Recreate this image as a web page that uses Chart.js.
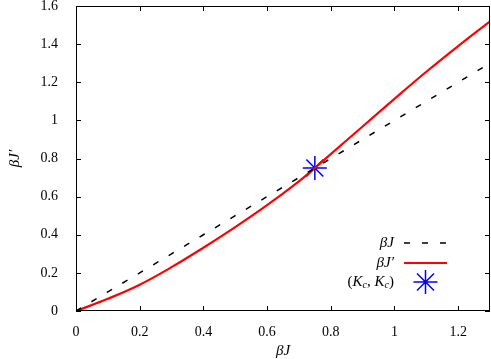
<!DOCTYPE html>
<html>
<head>
<meta charset="utf-8">
<script src="https://cdn.jsdelivr.net/npm/chart.js@4/dist/chart.umd.min.js"></script>
<style>
  html, body { margin: 0; padding: 0; background: #fff; }
  #wrap { width: 491px; height: 359px; }
</style>
</head>
<body>
<div id="wrap"><canvas id="flow-chart" width="491" height="359"></canvas></div>
<script>
// values
var betaJ      = [0, 0.1, 0.2, 0.3, 0.4, 0.5, 0.6, 0.7, 0.75, 0.8, 0.9, 1.0, 1.1, 1.2, 1.3];
var diagVals   = [0, 0.1, 0.2, 0.3, 0.4, 0.5, 0.6, 0.7, 0.75, 0.8, 0.9, 1.0, 1.1, 1.2, 1.3];
var betaJprime = [0, 0.064, 0.138, 0.23, 0.332, 0.44, 0.555, 0.68, 0.75, 0.823, 0.968, 1.113, 1.255, 1.39, 1.52];
var critPoint  = [0.75, 0.75];
var xTicks = [0, 0.2, 0.4, 0.6, 0.8, 1, 1.2];
var yTicks = [0, 0.2, 0.4, 0.6, 0.8, 1, 1.2, 1.4, 1.6];

var FONT = "'Liberation Serif', 'Times New Roman', serif";
Chart.defaults.font.family = FONT;
Chart.defaults.font.size = 14;
Chart.defaults.color = '#000';

function toPoints(xs, ys) {
    return xs.map((x, i) => ({ x: x, y: ys[i] }));
}

// gnuplot style frame with inward ticks + inline legend
var framePlugin = {
    id: 'frame',
    afterDatasetsDraw: function(chart) {
        var ctx = chart.ctx, a = chart.chartArea;
        var xs = chart.scales.x, ys = chart.scales.y;
        ctx.save();
        ctx.strokeStyle = '#000';
        ctx.lineWidth = 1;
        ctx.strokeRect(a.left + 0.5, a.top + 0.5, a.right - a.left - 1, a.bottom - a.top - 1);
        ctx.beginPath();
        xs.ticks.forEach(function(t) {
            var px = Math.round(xs.getPixelForValue(t.value)) + 0.5;
            ctx.moveTo(px, a.bottom); ctx.lineTo(px, a.bottom - 5);
            ctx.moveTo(px, a.top); ctx.lineTo(px, a.top + 5);
        });
        ys.ticks.forEach(function(t) {
            var py = Math.round(ys.getPixelForValue(t.value)) + 0.5;
            ctx.moveTo(a.left, py); ctx.lineTo(a.left + 5, py);
            ctx.moveTo(a.right, py); ctx.lineTo(a.right - 5, py);
        });
        ctx.stroke();

        // legend
        var tx = a.right - 96, sx0 = a.right - 86, sx1 = a.right - 43;
        var rows = [a.bottom - 68, a.bottom - 48, a.bottom - 29];
        ctx.fillStyle = '#000';
        ctx.textBaseline = 'middle';
        ctx.textAlign = 'right';
        ctx.font = 'italic 15px ' + FONT;
        ctx.fillText('\u03B2J', tx, rows[0]);
        ctx.fillText('\u03B2J\u2032', tx, rows[1]);

        // (Kc, Kc) with subscripts, drawn right-to-left
        var parts = [[')', 'normal 15px', 0], ['c', 'italic 10px', 3], ['K', 'italic 15px', 0],
                     [', ', 'normal 15px', 0], ['c', 'italic 10px', 3], ['K', 'italic 15px', 0],
                     ['(', 'normal 15px', 0]];
        var cx = tx;
        parts.forEach(function(p) {
            ctx.font = p[1] + ' ' + FONT;
            ctx.fillText(p[0], cx, rows[2] + p[2]);
            cx -= ctx.measureText(p[0]).width;
        });

        ctx.lineWidth = 1.5;
        ctx.setLineDash([6, 12]);
        ctx.beginPath(); ctx.moveTo(sx0, rows[0]); ctx.lineTo(sx1, rows[0]); ctx.stroke();
        ctx.setLineDash([]);
        ctx.strokeStyle = '#ff0000';
        ctx.lineWidth = 2.2;
        ctx.beginPath(); ctx.moveTo(sx0, rows[1]); ctx.lineTo(sx1, rows[1]); ctx.stroke();
        ctx.strokeStyle = '#0000ff';
        ctx.lineWidth = 1.5;
        var mx = (sx0 + sx1) / 2, my = rows[2], r = 12, d = r * Math.SQRT1_2;
        ctx.beginPath();
        ctx.moveTo(mx - r, my); ctx.lineTo(mx + r, my);
        ctx.moveTo(mx, my - r); ctx.lineTo(mx, my + r);
        ctx.moveTo(mx - d, my - d); ctx.lineTo(mx + d, my + d);
        ctx.moveTo(mx - d, my + d); ctx.lineTo(mx + d, my - d);
        ctx.stroke();
        ctx.restore();
    }
};

var flowCtx = document.getElementById('flow-chart').getContext('2d');
var flowChart = new Chart(flowCtx, {
    type: 'line',
    data: {
        datasets: [{
            label: '\u03B2J',
            data: toPoints(betaJ, diagVals),
            borderColor: '#000',
            borderWidth: 1.5,
            borderDash: [6, 12],
            pointRadius: 0,
            fill: false
        }, {
            label: '\u03B2J\u2032',
            data: toPoints(betaJ, betaJprime),
            borderColor: '#ff0000',
            borderWidth: 2.2,
            pointRadius: 0,
            tension: 0.4,
            fill: false
        }, {
            type: 'scatter',
            label: '(Kc, Kc)',
            data: [{ x: critPoint[0], y: critPoint[1] }],
            pointStyle: 'star',
            pointRadius: 12,
            pointBorderColor: '#0000ff',
            pointBackgroundColor: '#0000ff',
            pointBorderWidth: 1.5
        }]
    },
    options: {
        responsive: false,
        animation: false,
        layout: { autoPadding: false, padding: { top: 6, right: 1, left: 0, bottom: 0 } },
        plugins: {
            legend: { display: false },
            tooltip: { enabled: false }
        },
        scales: {
            x: {
                type: 'linear',
                min: 0,
                max: 1.3,
                grid: { display: false },
                border: { display: false },
                afterBuildTicks: function(scale) { scale.ticks = xTicks.map(v => ({ value: v })); },
                afterFit: function(scale) {
                    scale.height = 48;
                    scale.paddingLeft = 0;
                    scale.paddingRight = 0;
                },
                ticks: { padding: 5, maxRotation: 0, callback: v => String(v) },
                title: {
                    display: true,
                    text: '\u03B2J',
                    font: { size: 15, style: 'italic', lineHeight: 1 },
                    padding: { top: 0, bottom: 0 }
                }
            },
            y: {
                type: 'linear',
                min: 0,
                max: 1.6,
                grid: { display: false },
                border: { display: false },
                afterBuildTicks: function(scale) { scale.ticks = yTicks.map(v => ({ value: v })); },
                afterFit: function(scale) {
                    scale.width = 76;
                    scale.paddingTop = 0;
                    scale.paddingBottom = 0;
                },
                ticks: { padding: 10, callback: v => String(v) },
                title: {
                    display: true,
                    text: '\u03B2J\u2032',
                    font: { size: 15, style: 'italic', lineHeight: 1 },
                    padding: { top: 8, bottom: 0 }
                }
            }
        }
    },
    plugins: [framePlugin]
});
</script>
</body>
</html>
